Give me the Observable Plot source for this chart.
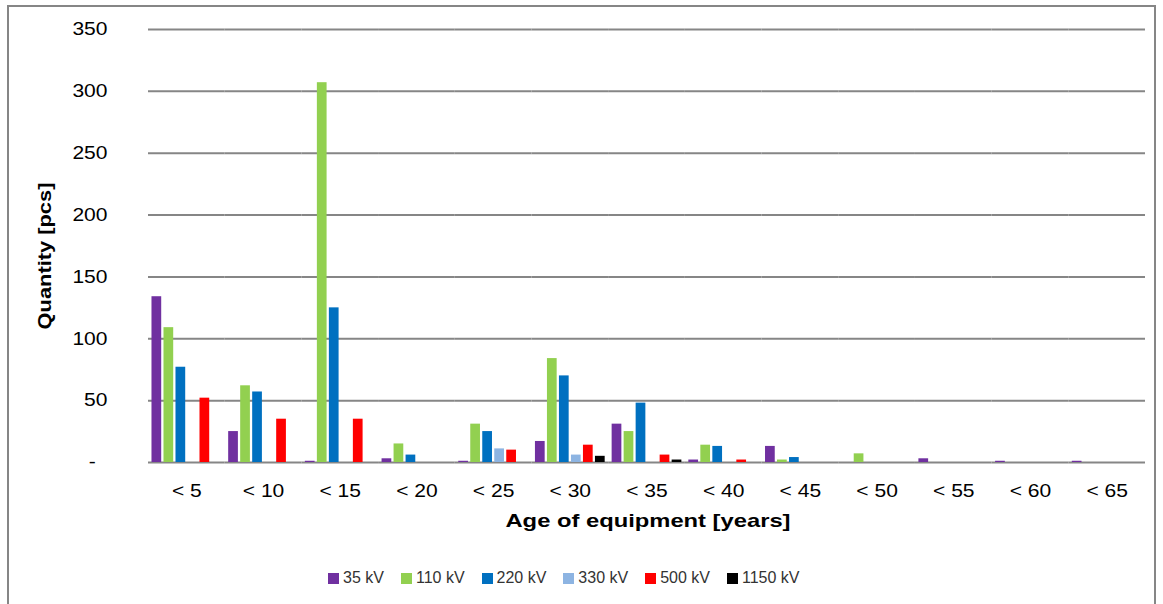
<!DOCTYPE html>
<html>
<head>
<meta charset="utf-8">
<script src="https://cdn.jsdelivr.net/npm/d3@7"></script>
<script src="https://cdn.jsdelivr.net/npm/@observablehq/plot@0.6"></script>
<style>
  html, body { margin: 0; padding: 0; background: #fff; }
  #wrap { position: relative; width: 1163px; height: 604px; overflow: hidden; font-family: "Liberation Sans", Arial, sans-serif; }
  #frame { position: absolute; left: 7px; top: 5px; width: 1149px; height: 640px; border: 2px solid #868686; box-sizing: border-box; }
  #chart { position: absolute; left: 0; top: 0; }
  .ytitle { position: absolute; left: 45px; top: 256px; transform: translate(-50%, -50%) rotate(-90deg) scaleX(1.15); font-weight: bold; font-size: 19px; white-space: nowrap; }
  .xtitle { position: absolute; left: 648px; top: 521px; transform: translate(-50%, -50%) scaleX(1.25); font-weight: bold; font-size: 19px; white-space: nowrap; }
  #legend { position: absolute; left: 328px; top: 569px; display: flex; align-items: center; font-size: 16px; line-height: 18px; color: #333; }
  #legend .item { display: flex; align-items: center; margin-right: 17px; }
  #legend .sw { width: 11px; height: 11px; margin-right: 4px; }
</style>
</head>
<body>
<div id="wrap">
  <div id="frame"></div>
  <div id="chart"></div>
  <div class="ytitle">Quantity [pcs]</div>
  <div class="xtitle">Age of equipment [years]</div>
  <div id="legend"></div>
</div>
<script>
const groups = ["< 5", "< 10", "< 15", "< 20", "< 25", "< 30", "< 35", "< 40", "< 45", "< 50", "< 55", "< 60", "< 65"];
const seriesNames = ["35 kV", "110 kV", "220 kV", "330 kV", "500 kV", "1150 kV"];
const seriesColors = ["#7030A0", "#92D050", "#0070C0", "#8DB4E2", "#FF0000", "#000000"];
const v35 = [134, 25, 1, 3, 1, 17, 31, 2, 13, 0, 3, 1, 1];
const v110 = [109, 62, 307, 15, 31, 84, 25, 14, 2, 7, 0, 0, 0];
const v220 = [77, 57, 125, 6, 25, 70, 48, 13, 4, 0, 0, 0, 0];
const v330 = [0, 0, 0, 0, 11, 6, 0, 0, 0, 0, 0, 0, 0];
const v500 = [52, 35, 35, 0, 10, 14, 6, 2, 0, 0, 0, 0, 0];
const v1150 = [0, 0, 0, 0, 0, 5, 2, 0, 0, 0, 0, 0, 0];
const yTicks = [0, 50, 100, 150, 200, 250, 300, 350];

const seriesValues = [v35, v110, v220, v330, v500, v1150];
const data = [];
groups.forEach((g, i) => seriesNames.forEach((s, j) => data.push({group: g, series: s, value: seriesValues[j][i]})));

const chart = Plot.plot({
  width: 1163,
  height: 545,
  marginTop: 29,
  marginBottom: 83,
  marginLeft: 148,
  marginRight: 18,
  style: {fontFamily: "'Liberation Sans', Arial, sans-serif", fontSize: "18px", color: "#000", background: "transparent"},
  facet: {data: data, x: "group"},
  fx: {domain: groups, padding: 0, round: false, label: null, tickSize: 0, tickPadding: 22},
  x: {domain: seriesNames, axis: null, round: false, paddingInner: 0.19, paddingOuter: 0.29},
  y: {domain: [0, 350], ticks: yTicks, tickFormat: d => d === 0 ? "-\u2007" : String(d), tickSize: 0, tickPadding: 41, label: null},
  color: {domain: seriesNames, range: seriesColors},
  marks: [
    Plot.ruleY(yTicks, {stroke: "#868686", strokeWidth: 2}),
    Plot.barY(data, {x: "series", y: "value", fill: "series"})
  ]
});
document.getElementById("chart").appendChild(chart);

// widen tick label glyphs horizontally (the reference text is stretched)
const SX = 1.17;
chart.querySelectorAll('[aria-label^="y-axis"] text, [aria-label^="fx-axis"] text').forEach(t => {
  const tr = t.getAttribute("transform") || "";
  const x = parseFloat(t.getAttribute("x"));
  if (x) t.setAttribute("x", x / SX);
  const dx = t.getAttribute("dx");
  if (dx && /^-?[\d.]+$/.test(dx)) t.setAttribute("dx", parseFloat(dx) / SX);
  t.setAttribute("transform", (tr + " scale(" + SX + ",1)").trim());
});

const legend = document.getElementById("legend");
seriesNames.forEach((s, j) => {
  const it = document.createElement("div");
  it.className = "item";
  const sw = document.createElement("div");
  sw.className = "sw";
  sw.style.background = seriesColors[j];
  const t = document.createElement("span");
  t.textContent = s;
  it.appendChild(sw);
  it.appendChild(t);
  legend.appendChild(it);
});
</script>
</body>
</html>
